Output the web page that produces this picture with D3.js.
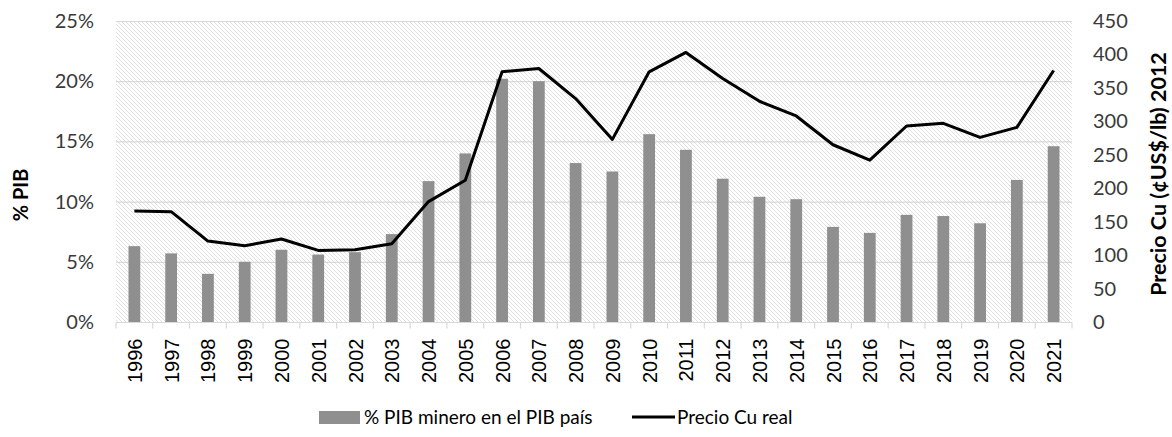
<!DOCTYPE html>
<html><head><meta charset="utf-8">
<script src="https://cdn.jsdelivr.net/npm/d3@7"></script>
<style>body{margin:0;background:#fff}svg{display:block}</style>
</head><body><svg id="c" width="1172" height="437"></svg>
<script>
const years = ["1996","1997","1998","1999","2000","2001","2002","2003","2004","2005","2006","2007","2008","2009","2010","2011","2012","2013","2014","2015","2016","2017","2018","2019","2020","2021"];
const pibMinero = [6.3,5.7,4.0,5.0,6.0,5.6,5.8,7.3,11.7,14.0,20.2,20.0,13.2,12.5,15.6,14.3,11.9,10.4,10.2,7.9,7.4,8.9,8.8,8.2,11.8,14.6];
const precioCu = [166,165,121,114,124,107,108,117,180,212,374,379,334,273,374,403,364,330,308,265,242,293,297,276,291,376];
const leftTicks = [0,5,10,15,20,25];
const rightTicks = [0,50,100,150,200,250,300,350,400,450];

const svg = d3.select("#c");
const L = 116, R = 1072, T = 21, B = 322;
const x = d3.scaleBand().domain(years).range([L, R]).paddingInner(0.68).paddingOuter(0.34);
const xb = d3.scaleBand().domain(years).range([L, R]);
const yL = d3.scaleLinear().domain([0,25]).range([B, T]);
const yR = d3.scaleLinear().domain([0,450]).range([B, T]);

const defs = svg.append("defs");
const pat = defs.append("pattern").attr("id","hatch").attr("patternUnits","userSpaceOnUse")
  .attr("width",4).attr("height",4);
pat.append("rect").attr("width",4).attr("height",4).attr("fill","#fff");
pat.append("path").attr("d","M-1,-1 L5,5 M-1,3 L1,5 M3,-1 L5,1").attr("stroke","#dcdcdc").attr("stroke-width",0.9);

svg.append("rect").attr("x",L).attr("y",T).attr("width",R-L).attr("height",B-T).attr("fill","url(#hatch)");

// gridlines
svg.append("g").selectAll("line").data(leftTicks.slice(1)).join("line")
  .attr("x1",L).attr("x2",R).attr("y1",d=>yL(d)+0.5).attr("y2",d=>yL(d)+0.5)
  .attr("stroke","#d9d9d9").attr("stroke-width",1.2);

// bars
svg.append("g").selectAll("rect").data(pibMinero).join("rect")
  .attr("x",(d,i)=>x(years[i])).attr("width",x.bandwidth())
  .attr("y",d=>yL(d)).attr("height",d=>B-yL(d)).attr("fill","#8f8f8f");

// line
const line = d3.line().x((d,i)=>xb(years[i])+xb.bandwidth()/2).y(d=>yR(d));
svg.append("path").datum(precioCu).attr("d",line).attr("fill","none")
  .attr("stroke","#000").attr("stroke-width",3).attr("stroke-linejoin","round");

// x axis
const xa = svg.append("g").attr("transform",`translate(0,${B+0.5})`);
xa.append("line").attr("x1",L).attr("x2",R).attr("stroke","#d9d9d9").attr("stroke-width",1.2);
xa.selectAll("line.t").data(years.concat(["end"])).join("line").attr("class","t")
  .attr("x1",(d,i)=>L+i*xb.step()).attr("x2",(d,i)=>L+i*xb.step())
  .attr("y1",0).attr("y2",6).attr("stroke","#d9d9d9").attr("stroke-width",1.2);
xa.selectAll("text").data(years).join("text")
  .attr("transform",d=>`translate(${xb(d)+xb.bandwidth()/2+7.5},16) rotate(-90)`)
  .attr("text-anchor","end").attr("font-family","Liberation Sans, Arial, sans-serif")
  .attr("font-size",20).attr("fill","#000").text(d=>d);

// left axis
const fontC = "Lato, 'Open Sans', sans-serif";
svg.append("g").selectAll("text").data(leftTicks).join("text")
  .attr("x",94).attr("y",d=>yL(d)+7).attr("text-anchor","end")
  .attr("font-family",fontC).attr("font-size",20).attr("fill","#3a3a3a").text(d=>d+"%");
svg.append("text").attr("transform","translate(28,195) rotate(-90)").attr("text-anchor","middle")
  .attr("font-family",fontC).attr("font-weight","bold").attr("font-size",20).attr("fill","#000").text("% PIB");

// right axis
svg.append("g").selectAll("text").data(rightTicks).join("text")
  .attr("x",1093).attr("y",d=>yR(d)+7).attr("text-anchor","start")
  .attr("font-family",fontC).attr("font-size",20).attr("fill","#3a3a3a").text(d=>d);
svg.append("text").attr("transform","translate(1166,174) rotate(-90)").attr("text-anchor","middle")
  .attr("font-family",fontC).attr("font-weight","bold").attr("font-size",21.5).attr("fill","#000").text("Precio Cu (¢US$/lb) 2012");

// legend
const lg = svg.append("g");
lg.append("rect").attr("x",319).attr("y",411).attr("width",41).attr("height",13).attr("fill","#8f8f8f");
lg.append("text").attr("x",364).attr("y",424).attr("font-family",fontC).attr("font-size",19).attr("fill","#000").text("%  PIB minero en el PIB país");
lg.append("line").attr("x1",632).attr("x2",675).attr("y1",417).attr("y2",417).attr("stroke","#000").attr("stroke-width",3);
lg.append("text").attr("x",677).attr("y",424).attr("font-family",fontC).attr("font-size",19).attr("fill","#000").text("Precio Cu real");
</script></body></html>
